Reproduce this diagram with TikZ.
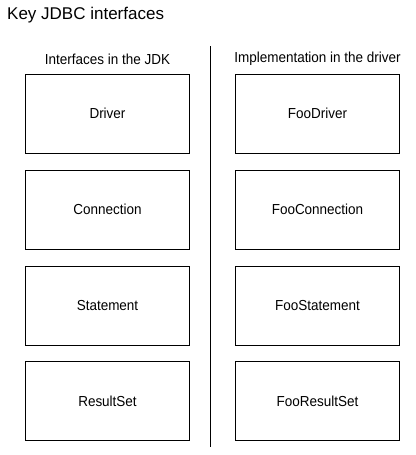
\documentclass[tikz,border=0pt]{standalone}
\usepackage{fontspec}
\setmainfont[FakeStretch=0.93]{Liberation Sans}
\newfontfamily\titlefont{Liberation Sans}
\begin{document}
\begin{tikzpicture}[
x=1pt, y=-1pt,
classbox/.style={rectangle, draw=black, line width=0.9pt, minimum width=164pt, minimum height=79pt, inner sep=0pt, font=\fontsize{14.5}{16}\selectfont},
headtext/.style={inner sep=0pt, font=\fontsize{14.5}{16}\selectfont},
]
\useasboundingbox (0,0) rectangle (415,455);
%Title
\node[anchor=west, inner sep=0pt, font=\titlefont\fontsize{17}{19}\selectfont](title) at(7, 15) {Key JDBC interfaces};
%Headers
\node[headtext](jdkhead) at(107.5, 59) {Interfaces in the JDK};
\node[headtext](drvhead) at(317.5, 59) {Implementation in the driver};
%Nodes
\node[classbox](driver) at(107.5, 113.5) {Driver};
\node[classbox](connection) at(107.5, 209.5) {Connection};
\node[classbox](statement) at(107.5, 305.5) {Statement};
\node[classbox](resultset) at(107.5, 401) {ResultSet};
\node[classbox](fooDriver) at(317.5, 113.5) {FooDriver};
\node[classbox](fooConnection) at(317.5, 209.5) {FooConnection};
\node[classbox](fooStatement) at(317.5, 305.5) {FooStatement};
\node[classbox](fooResultset) at(317.5, 401) {FooResultSet};
%Divider
\coordinate (divtop) at(210, 46);
\coordinate (divbottom) at(210, 447);
\draw[line width=0.9pt] (divtop) -- (divbottom);
\end{tikzpicture}
\end{document}
